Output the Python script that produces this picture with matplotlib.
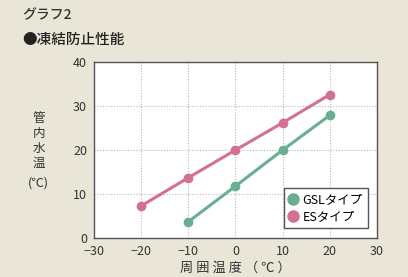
import matplotlib
matplotlib.use("Agg")
import matplotlib.pyplot as plt

plt.rcParams['font.family'] = ['Noto Sans CJK JP', 'DejaVu Sans']

temps_gsl = [-10, 0, 10, 20]
water_gsl = [3.7, 11.8, 20.0, 27.9]
temps_es = [-20, -10, 0, 10, 20]
water_es = [7.3, 13.7, 20.0, 26.2, 32.6]
labels = ["GSLタイプ", "ESタイプ"]
colors = ["#6aae92", "#d27190"]
bg = "#e9e5d7"


def main():
    fig = plt.figure(figsize=(4.08, 2.77), dpi=100, facecolor=bg)
    ax = fig.add_axes([0.2304, 0.1408, 0.6936, 0.6352])
    ax.set_facecolor("white")

    ax.plot(temps_gsl, water_gsl, color=colors[0], lw=2.2, marker="o", ms=6, label=labels[0])
    ax.plot(temps_es, water_es, color=colors[1], lw=2.2, marker="o", ms=6, label=labels[1])

    ax.set_xlim(-30, 30)
    ax.set_ylim(0, 40)
    ax.set_xticks(range(-30, 31, 10))
    ax.set_yticks(range(0, 41, 10))
    ax.grid(True, color="#b8b8b8", ls=(0, (1, 1.5)), lw=0.8)
    ax.tick_params(length=0, labelsize=9, colors="#333333", pad=5)
    for s in ax.spines.values():
        s.set_color("#555555")
        s.set_linewidth(1.0)

    leg = ax.legend(loc="lower right", bbox_to_anchor=(0.99, 0.02), fontsize=9,
                    fancybox=False, edgecolor="#555555", framealpha=1,
                    handlelength=0.6, handletextpad=0.5, borderpad=0.4, labelspacing=0.3)
    for h in leg.legend_handles:
        h.set_linestyle("none")
        h.set_markersize(8)

    fig.text(0.054, 0.945, "グラフ2", fontsize=10, color="#333333", va="center",
             fontweight="medium")
    fig.text(0.054, 0.855, "●凍結防止性能", fontsize=10.5, color="#222222", va="center",
             fontweight="medium")
    fig.text(0.095, 0.49, "管\n内\n水\n温", fontsize=9, color="#333333",
             ha="center", va="center", linespacing=1.2)
    fig.text(0.095, 0.338, "(℃)", fontsize=9, color="#333333", ha="center", va="center")
    fig.text(0.576, 0.032, "周 囲 温 度 （ ℃ ）", fontsize=9.5, color="#333333",
             ha="center", va="center")

    fig.savefig("out.png", dpi=100, facecolor=bg)


if __name__ == "__main__":
    main()
